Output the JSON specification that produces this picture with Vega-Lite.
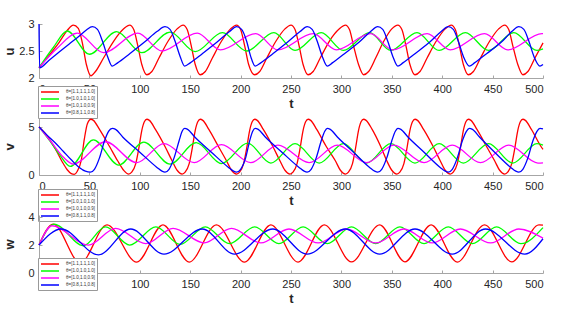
{
"$schema":"https://vega.github.io/schema/vega-lite/v6.json",
"padding":{"left":3,"top":18,"right":5,"bottom":5},
"background":"white",
"datasets":{
"u":[
{"s":"r","t":0,"y":2.19},{"s":"r","t":10,"y":2.42},{"s":"r","t":20,"y":2.66},{"s":"r","t":28,"y":2.88},{"s":"r","t":34,"y":2.98},{"s":"r","t":39,"y":2.92},{"s":"r","t":43,"y":2.65},{"s":"r","t":47,"y":2.25},{"s":"r","t":51.5,"y":2.04},
{"s":"r","t":56,"y":2.12},{"s":"r","t":64,"y":2.37},{"s":"r","t":74,"y":2.68},{"s":"r","t":84,"y":2.91},{"s":"r","t":90,"y":2.98},{"s":"r","t":94,"y":2.9},{"s":"r","t":98,"y":2.6},{"s":"r","t":102,"y":2.25},{"s":"r","t":107,"y":2.06},
{"s":"r","t":112,"y":2.12},{"s":"r","t":119,"y":2.37},{"s":"r","t":128,"y":2.68},{"s":"r","t":137,"y":2.91},{"s":"r","t":143,"y":2.98},{"s":"r","t":147,"y":2.9},{"s":"r","t":151,"y":2.6},{"s":"r","t":155,"y":2.25},{"s":"r","t":160,"y":2.06},
{"s":"r","t":165,"y":2.12},{"s":"r","t":172,"y":2.37},{"s":"r","t":181,"y":2.68},{"s":"r","t":190,"y":2.91},{"s":"r","t":196,"y":2.98},{"s":"r","t":200,"y":2.9},{"s":"r","t":204,"y":2.6},{"s":"r","t":208,"y":2.25},{"s":"r","t":214,"y":2.06},
{"s":"r","t":219,"y":2.12},{"s":"r","t":226,"y":2.37},{"s":"r","t":235,"y":2.68},{"s":"r","t":244,"y":2.91},{"s":"r","t":250,"y":2.98},{"s":"r","t":254,"y":2.9},{"s":"r","t":258,"y":2.6},{"s":"r","t":262,"y":2.25},{"s":"r","t":267,"y":2.06},
{"s":"r","t":272,"y":2.12},{"s":"r","t":279,"y":2.37},{"s":"r","t":288,"y":2.68},{"s":"r","t":298,"y":2.91},{"s":"r","t":304,"y":2.98},{"s":"r","t":308,"y":2.9},{"s":"r","t":312,"y":2.6},{"s":"r","t":317,"y":2.25},{"s":"r","t":322,"y":2.06},
{"s":"r","t":327,"y":2.12},{"s":"r","t":334,"y":2.37},{"s":"r","t":342,"y":2.68},{"s":"r","t":350,"y":2.91},{"s":"r","t":356,"y":2.98},{"s":"r","t":360,"y":2.9},{"s":"r","t":364,"y":2.6},{"s":"r","t":368,"y":2.25},{"s":"r","t":373,"y":2.06},
{"s":"r","t":378,"y":2.12},{"s":"r","t":385,"y":2.37},{"s":"r","t":394,"y":2.68},{"s":"r","t":403,"y":2.91},{"s":"r","t":409,"y":2.98},{"s":"r","t":413,"y":2.9},{"s":"r","t":417,"y":2.6},{"s":"r","t":421,"y":2.25},{"s":"r","t":426,"y":2.06},
{"s":"r","t":431,"y":2.12},{"s":"r","t":438,"y":2.37},{"s":"r","t":447,"y":2.68},{"s":"r","t":456,"y":2.91},{"s":"r","t":462,"y":2.98},{"s":"r","t":466,"y":2.9},{"s":"r","t":470,"y":2.6},{"s":"r","t":475,"y":2.25},{"s":"r","t":480,"y":2.06},
{"s":"r","t":485,"y":2.12},{"s":"r","t":492,"y":2.37},{"s":"r","t":500,"y":2.65},
{"s":"g","t":0,"y":2.19},{"s":"g","t":14,"y":2.56},{"s":"g","t":28,"y":2.87},{"s":"g","t":50,"y":2.44},{"s":"g","t":77,"y":2.86},{"s":"g","t":102,"y":2.47},{"s":"g","t":130,"y":2.85},{"s":"g","t":155,"y":2.49},{"s":"g","t":182,"y":2.84},{"s":"g","t":206,"y":2.5},{"s":"g","t":233,"y":2.84},{"s":"g","t":254,"y":2.51},{"s":"g","t":280,"y":2.84},{"s":"g","t":302,"y":2.51},{"s":"g","t":328,"y":2.84},{"s":"g","t":349,"y":2.51},{"s":"g","t":375,"y":2.84},{"s":"g","t":397,"y":2.51},{"s":"g","t":423,"y":2.84},{"s":"g","t":446,"y":2.51},{"s":"g","t":471,"y":2.84},{"s":"g","t":494,"y":2.51},{"s":"g","t":500,"y":2.54},
{"s":"m","t":0,"y":2.19},{"s":"m","t":18,"y":2.55},{"s":"m","t":38,"y":2.83},{"s":"m","t":64,"y":2.47},{"s":"m","t":98,"y":2.83},{"s":"m","t":122,"y":2.5},{"s":"m","t":157,"y":2.83},{"s":"m","t":180,"y":2.52},{"s":"m","t":215,"y":2.82},{"s":"m","t":237,"y":2.52},{"s":"m","t":272,"y":2.82},{"s":"m","t":295,"y":2.52},{"s":"m","t":329,"y":2.82},{"s":"m","t":351,"y":2.52},{"s":"m","t":385,"y":2.82},{"s":"m","t":408,"y":2.52},{"s":"m","t":442,"y":2.82},{"s":"m","t":465,"y":2.52},{"s":"m","t":499,"y":2.82},{"s":"m","t":500,"y":2.82},
{"s":"b","t":0,"y":3.0},{"s":"b","t":0.6,"y":2.19},{"s":"b","t":10,"y":2.33},{"s":"b","t":20,"y":2.48},{"s":"b","t":30,"y":2.63},{"s":"b","t":40,"y":2.78},{"s":"b","t":47,"y":2.89},{"s":"b","t":53,"y":2.95},{"s":"b","t":58,"y":2.9},{"s":"b","t":63,"y":2.68},{"s":"b","t":68,"y":2.4},{"s":"b","t":72.7,"y":2.22},
{"s":"b","t":78,"y":2.28},{"s":"b","t":90,"y":2.45},{"s":"b","t":105,"y":2.67},{"s":"b","t":117,"y":2.86},{"s":"b","t":125,"y":2.95},{"s":"b","t":130,"y":2.9},{"s":"b","t":135,"y":2.68},{"s":"b","t":140,"y":2.4},{"s":"b","t":144.5,"y":2.22},
{"s":"b","t":150,"y":2.28},{"s":"b","t":162,"y":2.45},{"s":"b","t":177,"y":2.67},{"s":"b","t":189,"y":2.86},{"s":"b","t":196,"y":2.95},{"s":"b","t":201,"y":2.9},{"s":"b","t":206,"y":2.68},{"s":"b","t":210,"y":2.4},{"s":"b","t":214.5,"y":2.22},
{"s":"b","t":220,"y":2.28},{"s":"b","t":232,"y":2.45},{"s":"b","t":247,"y":2.67},{"s":"b","t":259,"y":2.86},{"s":"b","t":266,"y":2.95},{"s":"b","t":271,"y":2.9},{"s":"b","t":276,"y":2.68},{"s":"b","t":281,"y":2.4},{"s":"b","t":286,"y":2.22},
{"s":"b","t":291,"y":2.28},{"s":"b","t":303,"y":2.45},{"s":"b","t":318,"y":2.67},{"s":"b","t":329,"y":2.86},{"s":"b","t":336,"y":2.95},{"s":"b","t":341,"y":2.9},{"s":"b","t":346,"y":2.68},{"s":"b","t":351,"y":2.4},{"s":"b","t":356,"y":2.22},
{"s":"b","t":361,"y":2.28},{"s":"b","t":373,"y":2.45},{"s":"b","t":388,"y":2.67},{"s":"b","t":399,"y":2.86},{"s":"b","t":406,"y":2.95},{"s":"b","t":411,"y":2.9},{"s":"b","t":416,"y":2.68},{"s":"b","t":421,"y":2.4},{"s":"b","t":427,"y":2.22},
{"s":"b","t":432,"y":2.28},{"s":"b","t":444,"y":2.45},{"s":"b","t":459,"y":2.67},{"s":"b","t":469,"y":2.86},{"s":"b","t":476,"y":2.95},{"s":"b","t":481,"y":2.9},{"s":"b","t":486,"y":2.68},{"s":"b","t":491,"y":2.4},{"s":"b","t":497,"y":2.22},{"s":"b","t":500,"y":2.25}
],
"v":[
{"s":"r","t":0,"y":5.07},{"s":"r","t":6,"y":4.4},{"s":"r","t":12,"y":3.5},{"s":"r","t":18,"y":2.4},{"s":"r","t":23,"y":1.4},{"s":"r","t":28,"y":0.55},{"s":"r","t":32,"y":0.15},{"s":"r","t":35,"y":0.07},{"s":"r","t":38,"y":0.4},{"s":"r","t":42,"y":1.6},{"s":"r","t":45,"y":3.8},{"s":"r","t":48,"y":5.4},{"s":"r","t":51.5,"y":5.87},
{"s":"r","t":54,"y":5.75},{"s":"r","t":60,"y":4.8},{"s":"r","t":70,"y":3.0},{"s":"r","t":78,"y":1.5},{"s":"r","t":84,"y":0.5},{"s":"r","t":89,"y":0.1},{"s":"r","t":92,"y":0.3},{"s":"r","t":96,"y":1.2},{"s":"r","t":99,"y":2.8},{"s":"r","t":102,"y":4.7},{"s":"r","t":104.5,"y":5.6},{"s":"r","t":107,"y":5.87},
{"s":"r","t":109.5,"y":5.75},{"s":"r","t":115.5,"y":4.8},{"s":"r","t":125,"y":3.0},{"s":"r","t":132,"y":1.5},{"s":"r","t":137,"y":0.5},{"s":"r","t":142,"y":0.1},{"s":"r","t":145,"y":0.3},{"s":"r","t":149,"y":1.2},{"s":"r","t":152,"y":2.8},{"s":"r","t":155,"y":4.7},{"s":"r","t":157.5,"y":5.6},{"s":"r","t":160,"y":5.87},
{"s":"r","t":162.5,"y":5.75},{"s":"r","t":168.5,"y":4.8},{"s":"r","t":178,"y":3.0},{"s":"r","t":186,"y":1.5},{"s":"r","t":191,"y":0.5},{"s":"r","t":196,"y":0.1},{"s":"r","t":199,"y":0.3},{"s":"r","t":203,"y":1.2},{"s":"r","t":206,"y":2.8},{"s":"r","t":209,"y":4.7},{"s":"r","t":211.5,"y":5.6},{"s":"r","t":214,"y":5.87},
{"s":"r","t":216.5,"y":5.75},{"s":"r","t":222.5,"y":4.8},{"s":"r","t":232,"y":3.0},{"s":"r","t":239,"y":1.5},{"s":"r","t":244,"y":0.5},{"s":"r","t":249,"y":0.1},{"s":"r","t":252,"y":0.3},{"s":"r","t":256,"y":1.2},{"s":"r","t":259,"y":2.8},{"s":"r","t":262,"y":4.7},{"s":"r","t":264.5,"y":5.6},{"s":"r","t":267,"y":5.87},
{"s":"r","t":269.5,"y":5.75},{"s":"r","t":275.5,"y":4.8},{"s":"r","t":285,"y":3.0},{"s":"r","t":294,"y":1.5},{"s":"r","t":299,"y":0.5},{"s":"r","t":304,"y":0.1},{"s":"r","t":307,"y":0.3},{"s":"r","t":311,"y":1.2},{"s":"r","t":314,"y":2.8},{"s":"r","t":317,"y":4.7},{"s":"r","t":319.5,"y":5.6},{"s":"r","t":322,"y":5.87},
{"s":"r","t":324.5,"y":5.75},{"s":"r","t":330.5,"y":4.8},{"s":"r","t":339,"y":3.0},{"s":"r","t":345,"y":1.5},{"s":"r","t":350,"y":0.5},{"s":"r","t":355,"y":0.1},{"s":"r","t":358,"y":0.3},{"s":"r","t":362,"y":1.2},{"s":"r","t":365,"y":2.8},{"s":"r","t":368,"y":4.7},{"s":"r","t":370.5,"y":5.6},{"s":"r","t":373,"y":5.87},
{"s":"r","t":375.5,"y":5.75},{"s":"r","t":381.5,"y":4.8},{"s":"r","t":391,"y":3.0},{"s":"r","t":398,"y":1.5},{"s":"r","t":403,"y":0.5},{"s":"r","t":408,"y":0.1},{"s":"r","t":411,"y":0.3},{"s":"r","t":415,"y":1.2},{"s":"r","t":418,"y":2.8},{"s":"r","t":421,"y":4.7},{"s":"r","t":423.5,"y":5.6},{"s":"r","t":426,"y":5.87},
{"s":"r","t":428.5,"y":5.75},{"s":"r","t":434.5,"y":4.8},{"s":"r","t":444,"y":3.0},{"s":"r","t":452,"y":1.5},{"s":"r","t":457,"y":0.5},{"s":"r","t":462,"y":0.1},{"s":"r","t":465,"y":0.3},{"s":"r","t":469,"y":1.2},{"s":"r","t":472,"y":2.8},{"s":"r","t":475,"y":4.7},{"s":"r","t":477.5,"y":5.6},{"s":"r","t":480,"y":5.87},
{"s":"r","t":482.5,"y":5.75},{"s":"r","t":488.5,"y":4.8},{"s":"r","t":498,"y":3.0},{"s":"r","t":500,"y":2.7},
{"s":"g","t":0,"y":5.07},{"s":"g","t":10,"y":3.7},{"s":"g","t":20,"y":2.2},{"s":"g","t":31,"y":0.9},{"s":"g","t":54,"y":3.7},{"s":"g","t":79,"y":1.05},{"s":"g","t":104,"y":3.45},{"s":"g","t":130,"y":1.15},{"s":"g","t":156,"y":3.4},{"s":"g","t":181,"y":1.2},{"s":"g","t":207,"y":3.35},{"s":"g","t":230,"y":1.25},{"s":"g","t":254,"y":3.3},{"s":"g","t":278,"y":1.25},{"s":"g","t":302,"y":3.3},{"s":"g","t":325,"y":1.25},{"s":"g","t":349,"y":3.3},{"s":"g","t":373,"y":1.25},{"s":"g","t":397,"y":3.3},{"s":"g","t":421,"y":1.25},{"s":"g","t":446,"y":3.3},{"s":"g","t":470,"y":1.25},{"s":"g","t":494,"y":3.3},{"s":"g","t":500,"y":3.15},
{"s":"m","t":0,"y":5.07},{"s":"m","t":12,"y":3.5},{"s":"m","t":24,"y":1.9},{"s":"m","t":34,"y":1.15},{"s":"m","t":66,"y":3.5},{"s":"m","t":97,"y":1.3},{"s":"m","t":124,"y":3.3},{"s":"m","t":154,"y":1.3},{"s":"m","t":181,"y":3.2},{"s":"m","t":210,"y":1.3},{"s":"m","t":237,"y":3.15},{"s":"m","t":268,"y":1.3},{"s":"m","t":296,"y":3.15},{"s":"m","t":325,"y":1.3},{"s":"m","t":352,"y":3.15},{"s":"m","t":382,"y":1.3},{"s":"m","t":410,"y":3.15},{"s":"m","t":438,"y":1.3},{"s":"m","t":466,"y":3.15},{"s":"m","t":495,"y":1.25},{"s":"m","t":500,"y":1.27},
{"s":"b","t":0,"y":5.07},{"s":"b","t":8,"y":4.2},{"s":"b","t":16,"y":3.4},{"s":"b","t":24,"y":2.5},{"s":"b","t":32,"y":1.6},{"s":"b","t":40,"y":0.8},{"s":"b","t":46,"y":0.4},{"s":"b","t":51,"y":0.3},{"s":"b","t":55,"y":0.6},{"s":"b","t":60,"y":1.8},{"s":"b","t":65,"y":3.6},{"s":"b","t":69,"y":4.6},{"s":"b","t":72.7,"y":4.9},
{"s":"b","t":76,"y":4.8},{"s":"b","t":83,"y":4.0},{"s":"b","t":100,"y":2.4},{"s":"b","t":117,"y":0.8},{"s":"b","t":122,"y":0.4},{"s":"b","t":125,"y":0.3},{"s":"b","t":129,"y":0.6},{"s":"b","t":134,"y":1.8},{"s":"b","t":139,"y":3.6},{"s":"b","t":142,"y":4.6},{"s":"b","t":144.5,"y":4.9},
{"s":"b","t":147.5,"y":4.8},{"s":"b","t":154.5,"y":4.0},{"s":"b","t":171,"y":2.4},{"s":"b","t":188,"y":0.8},{"s":"b","t":193,"y":0.4},{"s":"b","t":196,"y":0.3},{"s":"b","t":200,"y":0.6},{"s":"b","t":205,"y":1.8},{"s":"b","t":209,"y":3.6},{"s":"b","t":212,"y":4.6},{"s":"b","t":214.5,"y":4.9},
{"s":"b","t":217.5,"y":4.8},{"s":"b","t":224.5,"y":4.0},{"s":"b","t":241,"y":2.4},{"s":"b","t":258,"y":0.8},{"s":"b","t":263,"y":0.4},{"s":"b","t":266,"y":0.3},{"s":"b","t":270,"y":0.6},{"s":"b","t":275,"y":1.8},{"s":"b","t":280,"y":3.6},{"s":"b","t":283.5,"y":4.6},{"s":"b","t":286,"y":4.9},
{"s":"b","t":289,"y":4.8},{"s":"b","t":296,"y":4.0},{"s":"b","t":312,"y":2.4},{"s":"b","t":328,"y":0.8},{"s":"b","t":333,"y":0.4},{"s":"b","t":336,"y":0.3},{"s":"b","t":340,"y":0.6},{"s":"b","t":345,"y":1.8},{"s":"b","t":350,"y":3.6},{"s":"b","t":353.5,"y":4.6},{"s":"b","t":356,"y":4.9},
{"s":"b","t":359,"y":4.8},{"s":"b","t":366,"y":4.0},{"s":"b","t":382,"y":2.4},{"s":"b","t":398,"y":0.8},{"s":"b","t":403,"y":0.4},{"s":"b","t":406,"y":0.3},{"s":"b","t":410,"y":0.6},{"s":"b","t":415,"y":1.8},{"s":"b","t":420,"y":3.6},{"s":"b","t":424,"y":4.6},{"s":"b","t":427,"y":4.9},
{"s":"b","t":430,"y":4.8},{"s":"b","t":437,"y":4.0},{"s":"b","t":452,"y":2.4},{"s":"b","t":468,"y":0.8},{"s":"b","t":473,"y":0.4},{"s":"b","t":476,"y":0.3},{"s":"b","t":480,"y":0.6},{"s":"b","t":485,"y":1.8},{"s":"b","t":490,"y":3.6},{"s":"b","t":494,"y":4.6},{"s":"b","t":497,"y":4.9},{"s":"b","t":500,"y":4.85}
],
"w":[
{"s":"r","t":0,"y":2.0},{"s":"r","t":14,"y":3.5},{"s":"r","t":41,"y":0.72},{"s":"r","t":67.5,"y":3.45},{"s":"r","t":97,"y":0.78},{"s":"r","t":123,"y":3.45},{"s":"r","t":149,"y":0.78},{"s":"r","t":176,"y":3.45},{"s":"r","t":204,"y":0.78},{"s":"r","t":230,"y":3.45},{"s":"r","t":257,"y":0.78},{"s":"r","t":283,"y":3.45},{"s":"r","t":310,"y":0.8},{"s":"r","t":338,"y":3.45},{"s":"r","t":363,"y":0.8},{"s":"r","t":389,"y":3.45},{"s":"r","t":415,"y":0.78},{"s":"r","t":442,"y":3.45},{"s":"r","t":469,"y":0.8},{"s":"r","t":496,"y":3.45},{"s":"r","t":500,"y":3.42},
{"s":"g","t":0,"y":2.0},{"s":"g","t":15,"y":3.5},{"s":"g","t":44,"y":1.95},{"s":"g","t":66,"y":3.3},{"s":"g","t":90,"y":2.0},{"s":"g","t":116,"y":3.3},{"s":"g","t":140,"y":2.05},{"s":"g","t":165,"y":3.3},{"s":"g","t":189,"y":2.1},{"s":"g","t":214,"y":3.3},{"s":"g","t":238,"y":2.1},{"s":"g","t":262,"y":3.3},{"s":"g","t":286,"y":2.1},{"s":"g","t":310,"y":3.3},{"s":"g","t":334,"y":2.1},{"s":"g","t":358,"y":3.3},{"s":"g","t":382,"y":2.1},{"s":"g","t":406,"y":3.3},{"s":"g","t":430,"y":2.1},{"s":"g","t":454,"y":3.3},{"s":"g","t":478,"y":2.1},{"s":"g","t":500,"y":3.25},
{"s":"m","t":0,"y":2.0},{"s":"m","t":13,"y":3.38},{"s":"m","t":49,"y":2.0},{"s":"m","t":76,"y":3.2},{"s":"m","t":106,"y":2.1},{"s":"m","t":133,"y":3.2},{"s":"m","t":164,"y":2.15},{"s":"m","t":191,"y":3.2},{"s":"m","t":220,"y":2.15},{"s":"m","t":248,"y":3.15},{"s":"m","t":277,"y":2.15},{"s":"m","t":305,"y":3.15},{"s":"m","t":334,"y":2.15},{"s":"m","t":362,"y":3.15},{"s":"m","t":390,"y":2.15},{"s":"m","t":418,"y":3.15},{"s":"m","t":448,"y":2.15},{"s":"m","t":476,"y":3.15},{"s":"m","t":500,"y":2.5},
{"s":"b","t":0,"y":2.0},{"s":"b","t":22,"y":3.15},{"s":"b","t":59,"y":1.3},{"s":"b","t":91,"y":3.15},{"s":"b","t":124,"y":1.35},{"s":"b","t":162,"y":3.15},{"s":"b","t":194,"y":1.35},{"s":"b","t":232,"y":3.15},{"s":"b","t":266,"y":1.35},{"s":"b","t":304,"y":3.15},{"s":"b","t":338,"y":1.35},{"s":"b","t":373,"y":3.15},{"s":"b","t":410,"y":1.35},{"s":"b","t":443,"y":3.15},{"s":"b","t":482,"y":1.35},{"s":"b","t":500,"y":2.45}
]
},
"vconcat":[
{"width":504,"height":54,"data":{"name":"u"},
 "mark":{"type":"line","interpolate":"monotone","strokeWidth":1.3},
 "encoding":{
  "x":{"field":"t","type":"quantitative","scale":{"domain":[0,500],"nice":false},"axis":{"title":"t","values":[0,50,100,150,200,250,300,350,400,450,500]}},
  "y":{"field":"y","type":"quantitative","scale":{"domain":[2,3],"nice":false},"axis":{"title":"u","values":[2,2.5,3],"format":"~g"}},
  "color":{"field":"s","type":"nominal","scale":{"domain":["r","g","m","b"],"range":["#ff0000","#00ff00","#ff00ff","#0000ff"]},"legend":{"orient":"none","legendX":-1,"legendY":62,"labelExpr":"datum.value == 'r' ? 'θ=[1.1,1.1,1.0]' : datum.value == 'g' ? 'θ=[1.0,1.0,1.0]' : datum.value == 'm' ? 'θ=[1.0,1.0,0.9]' : 'θ=[0.8,1.1,0.8]'"}}
 }},
{"width":504,"height":57,"data":{"name":"v"},
 "mark":{"type":"line","interpolate":"monotone","strokeWidth":1.3},
 "encoding":{
  "x":{"field":"t","type":"quantitative","scale":{"domain":[0,500],"nice":false},"axis":{"title":"t","values":[0,50,100,150,200,250,300,350,400,450,500]}},
  "y":{"field":"y","type":"quantitative","scale":{"domain":[0,6],"nice":false},"axis":{"title":"v","values":[0,5]}},
  "color":{"field":"s","type":"nominal","scale":{"domain":["r","g","m","b"],"range":["#ff0000","#00ff00","#ff00ff","#0000ff"]},"legend":{"orient":"none","legendX":-1,"legendY":71,"labelExpr":"datum.value == 'r' ? 'θ=[1.1,1.1,1.0]' : datum.value == 'g' ? 'θ=[1.0,1.0,1.0]' : datum.value == 'm' ? 'θ=[1.0,1.0,0.9]' : 'θ=[0.8,1.1,0.8]'"}}
 }},
{"width":504,"height":58,"data":{"name":"w"},
 "mark":{"type":"line","interpolate":"monotone","strokeWidth":1.3},
 "encoding":{
  "x":{"field":"t","type":"quantitative","scale":{"domain":[0,500],"nice":false},"axis":{"title":"t","values":[0,50,100,150,200,250,300,350,400,450,500]}},
  "y":{"field":"y","type":"quantitative","scale":{"domain":[0,4.15],"nice":false},"axis":{"title":"w","values":[0,2,4]}},
  "color":{"field":"s","type":"nominal","scale":{"domain":["r","g","m","b"],"range":["#ff0000","#00ff00","#ff00ff","#0000ff"]},"legend":{"orient":"none","legendX":-1,"legendY":43,"labelExpr":"datum.value == 'r' ? 'θ=[1.1,1.1,1.0]' : datum.value == 'g' ? 'θ=[1.0,1.0,1.0]' : datum.value == 'm' ? 'θ=[1.0,1.0,0.9]' : 'θ=[0.8,1.1,0.8]'"}}
 }}
],
"spacing":40,
"bounds":"flush",
"resolve":{"legend":{"color":"independent"},"scale":{"y":"independent"}},
"config":{
 "view":{"stroke":null},
 "font":"Liberation Sans",
 "axis":{"grid":false,"domainColor":"#a6a6a6","tickColor":"#a6a6a6","tickSize":-3,"labelPadding":8,"labelColor":"#262626","labelFont":"Liberation Sans","labelFontSize":11,"titleFont":"Liberation Sans","titleFontSize":13,"titleFontWeight":"bold","titleColor":"#262626"},
 "axisX":{"titlePadding":3},
 "axisY":{"minExtent":19,"maxExtent":19,"titlePadding":4},
 "legend":{"title":null,"labelFontSize":4.5,"labelFont":"Liberation Sans","labelColor":"#333","symbolType":"M-3,0H3","symbolSize":36,"symbolStrokeWidth":1.5,"rowPadding":0,"padding":2,"strokeColor":"#999","fillColor":"white","labelOffset":12,"symbolOffset":6}
}
}
